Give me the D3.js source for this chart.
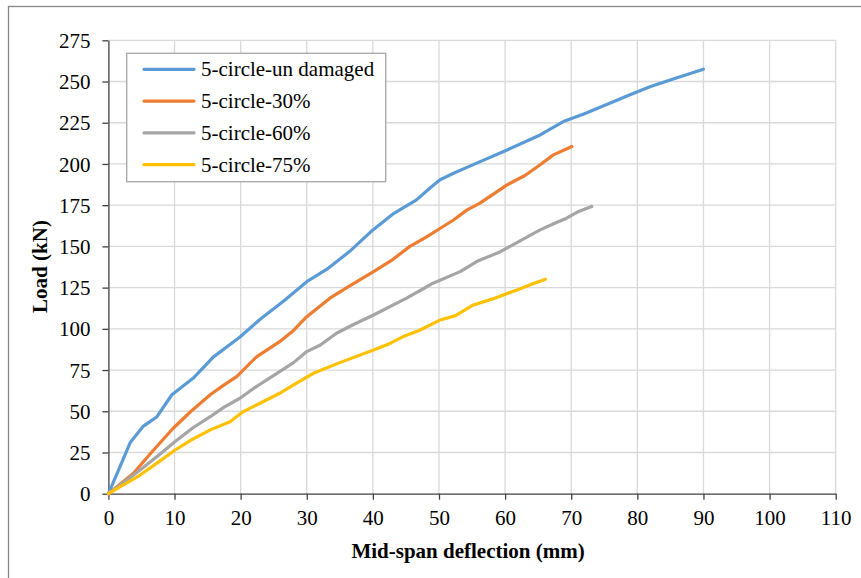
<!DOCTYPE html>
<html>
<head>
<meta charset="utf-8">
<script src="https://cdn.jsdelivr.net/npm/d3@7"></script>
<style>
  body { margin: 0; background: #fff; }
  svg { display: block; }
</style>
</head>
<body>
<svg id="chart" width="861" height="578"></svg>
<script>
// series names + colors
const seriesNames = ["5-circle-un damaged", "5-circle-30%", "5-circle-60%", "5-circle-75%"];
const seriesColors = ["#5B9BD5", "#ED7D31", "#A5A5A5", "#FFC000"];

// [deflection (mm), load (kN)]
const undamaged = [[0,0],[1.5,14],[3.3,31],[5.3,41],[7.3,46.5],[9.6,60],[12.8,70],[15.9,83],[19.9,95],
  [23,106],[26.7,117.5],[30,128.6],[33,136],[36.5,147],[40,160],[43,169.5],[46.6,178.2],[48.6,185.3],
  [50.1,190.3],[52.2,194.4],[55.7,200.5],[60.3,208.5],[65.3,217.6],[68.8,225.7],[72,230.5],[75,235.5],
  [78.9,242],[82,247],[86,252.3],[90,257.5]];
const dmg30 = [[0,0],[3.8,12.4],[6.5,25],[9.8,39.7],[12.5,50],[15.4,60],[17.5,66],[19.4,71],[22.4,83],
  [25.9,92.2],[28,99],[30,107.4],[33.5,118.6],[36.5,126],[40.1,134.7],[43,142],[45.6,150],[48,155.5],
  [50.2,161],[52.2,166],[54.2,172],[56.2,176.2],[60.3,187.3],[63,193],[65.3,199.5],[67.3,205.5],[70.1,210.6]];
const dmg60 = [[0,0],[4.8,14.4],[7.5,23],[10.1,31.6],[12.8,40],[15.4,46.7],[17.5,52.5],[19.9,57.9],[22,64],
  [25.9,74],[28,79.5],[30,86.2],[32,90],[34.5,97.3],[37,102.5],[40.1,108.4],[45.1,118.6],[47.5,124],
  [49.1,127.7],[53.2,134.7],[55.7,140.8],[59.3,146.8],[65.3,160],[67.5,164],[69.3,167.1],[71,171],[73.1,174.2]];
const dmg75 = [[0,0],[4.8,11.3],[7.5,19],[10.1,26.5],[12.5,32.5],[15.4,38.7],[18.4,43.7],[20.4,49.8],[23,55],
  [25.9,60.9],[28,66],[31,73],[35,79.5],[40.1,87.2],[42.5,91],[44.6,95.3],[47,99],[50.2,105.4],[52.5,108],
  [55.2,114.5],[58,118],[61.8,123.6],[64,127],[66.1,130.1]];

const xTicks = d3.range(0, 111, 10);
const yTicks = d3.range(0, 276, 25);

const allSeries = [undamaged, dmg30, dmg60, dmg75];

const svg = d3.select("#chart");
const font = "'Liberation Serif', 'Times New Roman', serif";
const fs = 21;

let margin = { top: 40.3, left: 108.4, right: 861 - 835.7, bottom: 578 - 493.7 };
let width = 861 - margin.left - margin.right,
  height = 578 - margin.top - margin.bottom;

// outer chart frame (runs off the right/bottom edge)
svg.append("rect")
  .attr("x", 8.5).attr("y", 6.5)
  .attr("width", 880).attr("height", 600)
  .attr("fill", "none").attr("stroke", "#868686").attr("stroke-width", 1.3);

const x = d3.scaleLinear().domain([0, 110]).range([0, width]);
const y = d3.scaleLinear().domain([0, 275]).range([height, 0]);

const g = svg.append("g").attr("transform", `translate(${margin.left},${margin.top})`);

// gridlines
g.append("g")
  .selectAll("line.vg").data(xTicks.slice(1)).enter().append("line")
  .attr("x1", d => x(d)).attr("x2", d => x(d))
  .attr("y1", 0).attr("y2", height)
  .attr("stroke", "#d9d9d9").attr("stroke-width", 1.3);
g.append("g")
  .selectAll("line.hg").data(yTicks.slice(1)).enter().append("line")
  .attr("x1", 0).attr("x2", width)
  .attr("y1", d => y(d)).attr("y2", d => y(d))
  .attr("stroke", "#d9d9d9").attr("stroke-width", 1.3);

// axes
const xAxis = g.append("g")
  .attr("transform", `translate(0,${height})`)
  .call(d3.axisBottom(x).tickValues(xTicks).tickSize(6).tickPadding(10).tickSizeOuter(0));
const yAxis = g.append("g")
  .call(d3.axisLeft(y).tickValues(yTicks).tickSize(6).tickPadding(12).tickSizeOuter(0));

[xAxis, yAxis].forEach(a => {
  a.attr("font-family", font).attr("font-size", fs);
  a.select(".domain").attr("stroke", "#404040").attr("stroke-width", 1.3);
  a.selectAll(".tick line").attr("stroke", "#404040").attr("stroke-width", 1.3);
  a.selectAll("text").attr("fill", "#000");
});
yAxis.selectAll("text").attr("dy", "0.34em");

// series lines
const line = d3.line().x(d => x(d[0])).y(d => y(d[1]));
allSeries.forEach((s, i) => {
  g.append("path")
    .datum(s)
    .attr("d", line)
    .attr("fill", "none")
    .attr("stroke", seriesColors[i])
    .attr("stroke-width", 3.2)
    .attr("stroke-linecap", "round")
    .attr("stroke-linejoin", "round");
});

// legend
const legend = svg.append("g").attr("font-family", font).attr("font-size", fs);
legend.append("rect")
  .attr("x", 126.7).attr("y", 53.3)
  .attr("width", 259).attr("height", 128.4)
  .attr("fill", "#fff").attr("stroke", "#a6a6a6").attr("stroke-width", 1.3);
seriesNames.forEach((name, i) => {
  const ry = 69.3 + i * 31.8;
  legend.append("line")
    .attr("x1", 144).attr("x2", 194).attr("y1", ry).attr("y2", ry)
    .attr("stroke", seriesColors[i]).attr("stroke-width", 3.2).attr("stroke-linecap", "round");
  legend.append("text")
    .attr("x", 201).attr("y", ry + 7)
    .text(name);
});

// axis titles
svg.append("text")
  .attr("x", margin.left + width / 2 - 4).attr("y", 558)
  .attr("text-anchor", "middle")
  .attr("font-family", font).attr("font-size", fs).attr("font-weight", "bold")
  .text("Mid-span deflection (mm)");
svg.append("text")
  .attr("transform", `translate(47,${margin.top + height / 2 - 0.5}) rotate(-90)`)
  .attr("text-anchor", "middle")
  .attr("font-family", font).attr("font-size", fs).attr("font-weight", "bold")
  .text("Load (kN)");
</script>
</body>
</html>
